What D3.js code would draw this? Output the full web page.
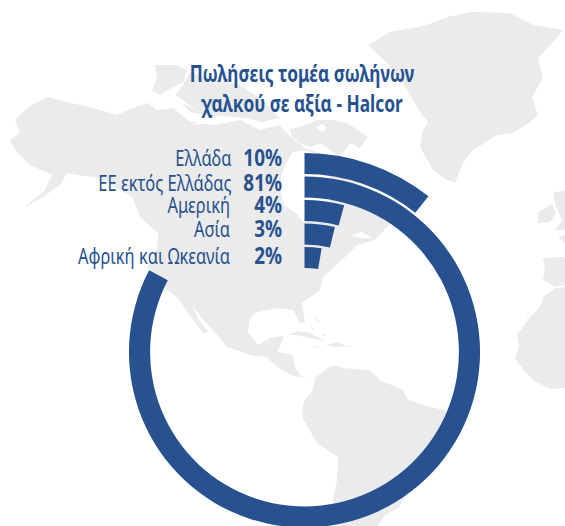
<!DOCTYPE html>
<html><head><meta charset="utf-8">
<script src="https://cdnjs.cloudflare.com/ajax/libs/d3/7.8.5/d3.min.js"></script>
<style>html,body{margin:0;background:#fff}svg{display:block}
text{font-family:"Noto Sans",sans-serif;fill:#27528f}</style>
</head><body><svg id="c" width="565" height="526"></svg>
<script>
// chart data
const categories = ["Ελλάδα","ΕΕ εκτός Ελλάδας","Αμερική","Ασία","Αφρική και Ωκεανία"];
const valueLabels = ["10%","81%","4%","3%","2%"];
const sweepPercent = [10.7,82.7,4.2,3.8,2.6];   // arc lengths
const titleLines = ["Πωλήσεις τομέα σωλήνων","χαλκού σε αξία - Halcor"];

// decorative background map outlines
const land = [
 [[10,140],[20,133],[15,120],[28,107],[38,102],[48,97],[67,102],[93,108],[117,115],[133,108],[147,103],[157,110],[173,108],[190,122],[215,125],[240,120],[260,130],[280,125],[295,140],[305,148],[340,160],[370,200],[392,222],[375,240],[357,245],[340,262],[323,277],[320,290],[302,303],[305,323],[300,323],[293,310],[277,308],[257,312],[250,318],[248,332],[258,345],[270,338],[283,336],[283,340],[277,352],[293,355],[295,367],[300,375],[313,381],[307,378],[293,376],[277,367],[267,357],[250,355],[227,347],[220,338],[205,322],[192,305],[198,318],[208,332],[203,333],[188,313],[178,298],[167,290],[147,267],[157,250],[158,233],[140,217],[132,197],[100,178],[78,175],[67,173],[60,185],[43,197],[25,207],[45,190],[52,175],[30,165],[15,150]],
 [[155,65],[177,65],[187,70],[183,82],[173,87],[160,95],[152,90],[157,78]],
 [[175,95],[183,85],[190,72],[205,78],[240,85],[262,100],[280,118],[262,122],[245,118],[225,116],[205,115],[190,112]],
 [[300,127],[317,120],[333,120],[347,123],[368,137],[360,148],[350,143],[340,157],[320,143],[310,147],[300,143],[285,130]],
 [[368,45],[390,32],[413,28],[430,24],[447,17],[473,12],[510,13],[533,25],[563,30],[553,42],[538,58],[543,78],[532,97],[538,115],[530,122],[513,133],[497,135],[473,150],[463,163],[455,183],[443,178],[433,170],[420,147],[423,130],[428,122],[420,112],[403,83],[387,63]],
 [[538,212],[552,204],[556,213],[550,222],[538,223]],
 [[553,193],[565,190],[565,230],[555,230],[562,220],[556,207]],
 [[558,237],[565,235],[565,243]],
 [[543,258],[565,257],[565,285],[555,287],[543,280],[545,268]],
 [[555,288],[565,287],[565,388],[550,389],[533,380],[522,368],[515,358],[519,347],[517,335],[530,317],[540,307],[543,297]],
 [[526,315],[530,312],[528,316]],
 [[288,335],[297,331],[310,333],[327,342],[310,338],[297,335]],
 [[325,345],[337,342],[347,346],[335,347]],
 [[312,346],[320,347],[314,348]],
 [[348,346],[353,346],[350,347]],
 [[311,325],[314,330],[312,330]],[[316,316],[320,323],[317,322]],[[322,332],[326,336],[323,336]],
 [[305,400],[313,390],[315,378],[328,368],[335,365],[343,368],[370,370],[380,380],[403,390],[408,400],[430,407],[445,410],[460,425],[440,465],[410,490],[398,508],[385,515],[378,526],[340,526],[333,500],[337,480],[338,457],[317,443],[302,417],[303,405]]
];
const water = [
 [[284,168],[279,185],[284,205],[297,214],[303,222],[320,218],[335,190],[320,155],[305,150],[292,152]],
 [[170,92],[180,98],[200,113],[192,108],[175,100]],
 [[190,125],[205,120],[217,120],[205,124]],
 [[316,127],[322,124],[327,128],[322,132]],
 [[275,120],[290,128],[292,138],[282,128]],
 [[352,235],[362,232],[372,238],[360,238]]
];

const svg = d3.select("#c");
const outline = d3.line().curve(d3.curveLinearClosed);
svg.append("g").selectAll("path").data(land).join("path").attr("d", outline).attr("fill","#ebebeb");
svg.append("g").selectAll("path").data(water).join("path").attr("d", outline).attr("fill","#fff");

const cx = 304.5, cy = 352;
const angle = d3.scaleLinear().domain([0,100]).range([0,2*Math.PI]);
const radius = d3.scaleBand().domain(categories).range([84,199]).paddingInner(0.1);
const arc = d3.arc();
svg.append("g").attr("transform",`translate(${cx},${cy})`)
  .selectAll("path").data(sweepPercent).join("path")
  .attr("d",(d,i)=>{
     const inner = radius(categories[categories.length-1-i]);
     return arc({innerRadius:inner,outerRadius:inner+radius.bandwidth(),startAngle:0,endAngle:angle(d)});
  }).attr("fill","#27528f");

// labels
const labelY = [166,190.7,212.7,237,264];
const labelRight = [231.5,231.5,230,230,230];
const labelStretch = 0.767, valueStretch = 0.84, titleStretch = 0.753;
svg.append("g").selectAll("text").data(categories).join("text")
  .attr("transform",(d,i)=>`translate(${labelRight[i]},${labelY[i]}) scale(${labelStretch},1)`)
  .attr("text-anchor","end").attr("font-size",21.5).text(d=>d);
svg.append("g").selectAll("text").data(valueLabels).join("text")
  .attr("transform",(d,i)=>`translate(282,${labelY[i]}) scale(${valueStretch},1)`)
  .attr("text-anchor","end").attr("font-size",22.5).attr("font-weight","bold").text(d=>d);
svg.append("g").selectAll("text").data(titleLines).join("text")
  .attr("transform",(d,i)=>`translate(302,${[82,112][i]}) scale(${titleStretch},1)`)
  .attr("text-anchor","middle").attr("font-size",23).attr("font-weight","bold").text(d=>d);
</script></body></html>
